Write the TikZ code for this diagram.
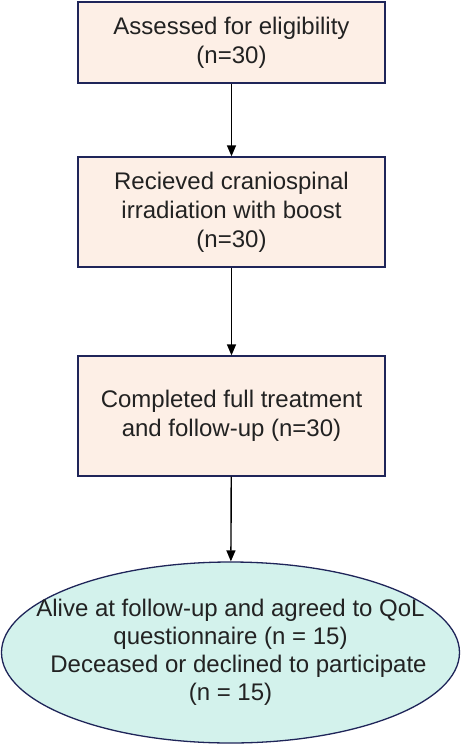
\documentclass[tikz,border=0pt]{standalone}
\usepackage{fontspec}
\setmainfont{Liberation Sans}
\usetikzlibrary{shapes.geometric,arrows.meta}
\definecolor{boxfill}{HTML}{FDEFE6}
\definecolor{ellfill}{HTML}{D3F2EC}
\definecolor{edge}{HTML}{1F2559}
\definecolor{txt}{HTML}{222222}
\begin{document}
\begin{tikzpicture}[x=1pt,y=1pt,
  stepbox/.style={draw=edge,line width=1.3pt,fill=boxfill,minimum width=307pt,inner sep=0pt,align=center,text=txt,font=\fontsize{24}{29}\selectfont},
  endell/.style={ellipse,draw=edge,line width=1.3pt,fill=ellfill,minimum width=458pt,minimum height=181pt,inner sep=0pt},
  elltext/.style={align=center,text=txt,inner sep=0pt,font=\fontsize{24}{28}\selectfont},
  conn/.style={line width=1.4pt,-{Triangle[length=11pt,width=9pt]}}]
\useasboundingbox (0,0) rectangle (461,-745);
\node[stepbox,minimum height=81pt] (a) at (231.5,-42.5) {Assessed for eligibility\\(n=30)};
\node[stepbox,minimum height=110pt] (b) at (231.5,-212) {Recieved craniospinal\\irradiation with boost\\(n=30)};
\node[stepbox,minimum height=120pt] (c) at (231.5,-416) {Completed full treatment\\and follow-up (n=30)};
\node[endell] (d) at (230.5,-652.5) {};
\node[elltext] (dt) at (d.center) {Alive at follow-up and agreed to QoL\\questionnaire (n = 15)\\\hspace*{16pt}Deceased or declined to participate\\(n = 15)};
\draw[conn] (a) -- (b);
\draw[conn] (b) -- (c);
\draw[conn] (c) -- (d);
\end{tikzpicture}
\end{document}
